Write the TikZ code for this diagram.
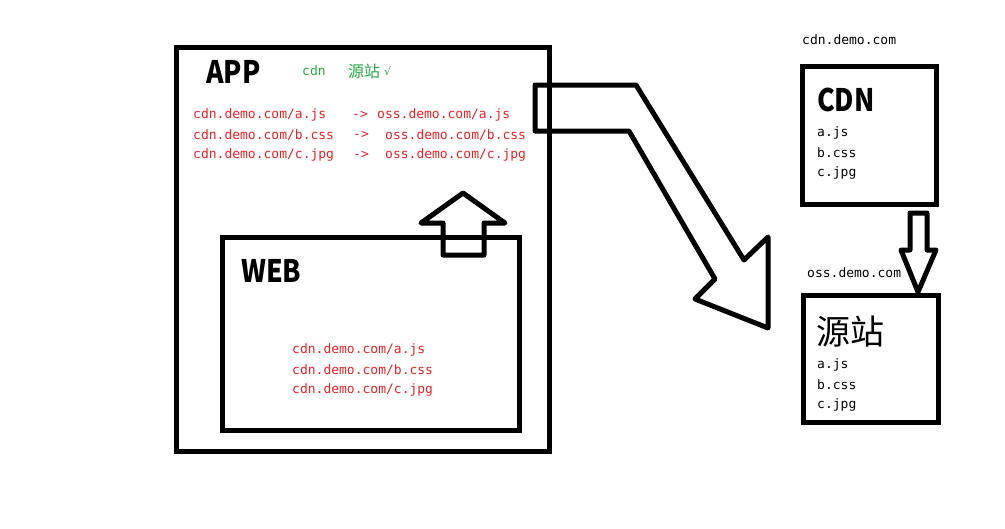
\documentclass[tikz,border=0pt]{standalone}
\usepackage{fontspec}
\usepackage{graphicx}
\setmainfont{Noto Sans CJK SC}
\newfontfamily\urlfont{DejaVu Sans Mono}
\newfontfamily\tickfont{DejaVu Sans}
\definecolor{linkred}{RGB}{230,35,40}
\definecolor{okgreen}{RGB}{40,170,70}
\newcommand{\narrow}[1]{\scalebox{0.86}[1]{#1}}
\tikzset{
  box/.style={draw, line width=5pt, anchor=north west, inner sep=0pt, outer sep=0pt},
  url/.style={font=\urlfont\fontsize{13}{15}\selectfont, anchor=west, inner sep=0pt},
  title/.style={font=\fontsize{31}{33}\selectfont\bfseries, anchor=west, inner sep=0pt},
  fat/.style={line width=5pt, line join=round}
}
\begin{document}
\begin{tikzpicture}[x=1pt,y=-1pt]
\fill[white] (0,0) rectangle (1005,528);
\useasboundingbox (0,0) rectangle (1005,528);
\node[box, minimum width=373pt, minimum height=404pt] (app) at (176,47) {};
\node[box, minimum width=297pt, minimum height=193pt] (web) at (222,237) {};
\node[box, minimum width=134pt, minimum height=138pt] (cdn) at (802,66) {};
\node[box, minimum width=135pt, minimum height=127pt] (origin) at (803,295) {};
\node[title] (apptitle) at (206,72) {\narrow{APP}};
\node[title] (webtitle) at (241,271) {\narrow{WEB}};
\node[title] (cdntitle) at (817,100) {\narrow{CDN}};
\node[title, font=\fontsize{34}{36}\selectfont] (origintitle) at (816,332) {源站};
\node[url, okgreen] (hint1) at (302,71) {cdn};
\node[anchor=west, inner sep=0pt, okgreen, font=\fontsize{16}{18}\selectfont] (hint2) at (348,71) {源站};
\node[anchor=west, inner sep=0pt, okgreen, font=\tickfont\fontsize{11}{13}\selectfont] (tick) at (hint2.east) {~√};
\foreach \f/\y/\a/\x [count=\i] in {a.js/115/352/377, b.css/135/353/385, c.jpg/155/353/385} {
    \node[url, linkred] (src\i) at (193,\y) {cdn.demo.com/\f};
    \node[url, linkred] (to\i) at (\a,\y) {->};
    \node[url, linkred] (dst\i) at (\x,\y) {oss.demo.com/\f};
    \node[url, linkred] (page\i) at (292,\y+235) {cdn.demo.com/\f};
    \node[url] (cfile\i) at (817,\y+18) {\f};
    \node[url] (ofile\i) at (817,\y+250) {\f};
}
\node[url] (cdnhost) at (802,40) {cdn.demo.com};
\node[url] (osshost) at (807,273) {oss.demo.com};
\draw[fat] (443,255) -- (443,223) -- (421,223) -- (463,193) -- (505,223) -- (484,223) -- (484,255) -- cycle;
\draw[fat] (535,85) -- (636,85) -- (744,260) -- (768,237) -- (768,328) -- (695,299) -- (715,279) -- (629,131) -- (535,131) -- cycle;
\draw[fat] (910,213) -- (927,213) -- (927,250) -- (936,250) -- (918,292) -- (901,250) -- (910,250) -- cycle;
\end{tikzpicture}
\end{document}
